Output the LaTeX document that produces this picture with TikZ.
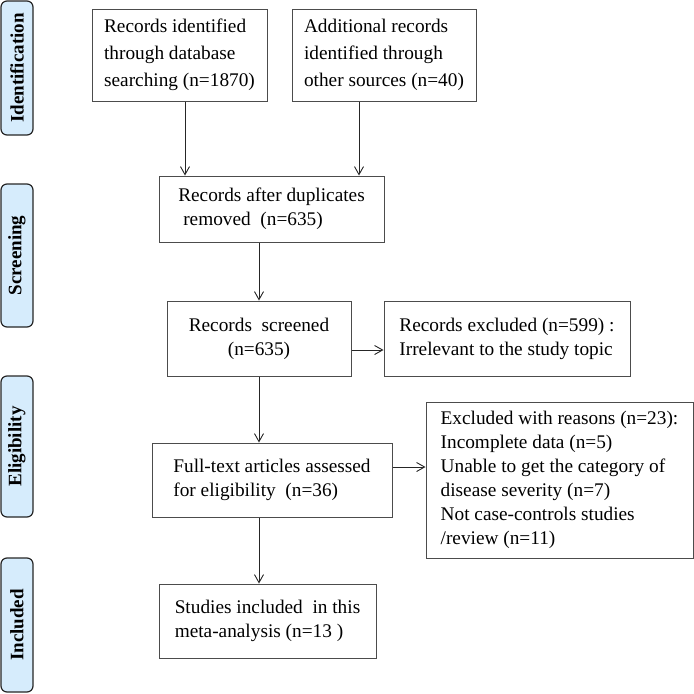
\documentclass[tikz,border=0pt]{standalone}
\usepackage{fontspec}
\setmainfont{Liberation Serif}
\usetikzlibrary{arrows.meta}
\usetikzlibrary{calc}
\definecolor{stageblue}{RGB}{214,236,252}
\tikzset{stage/.style = {draw=black!85, line width=1.2pt, fill=stageblue,
                         rounded corners=6pt, rotate=90, minimum height=32pt,
                         inner sep=0pt, font=\fontsize{19}{24}\selectfont\bfseries},
         box/.style = {draw=black!70, line width=1pt, align=left, inner sep=0pt,
                       font=\fontsize{19.3}{24}\selectfont},
         flow/.style = {draw=black!85, line width=0.9pt,
                        -{Straight Barb[length=8pt,width=9pt]}}}

\begin{document}
\begin{tikzpicture}[x=1pt, y=-1pt]
    \useasboundingbox (0, 0) rectangle (694, 694);

    \node [stage, minimum width=134pt] (ident) at (17, 68) {Identification};
    \node [stage, minimum width=143pt] (screen) at (17, 255.5) {Screening};
    \node [stage, minimum width=141pt] (elig) at (17, 446.5) {Eligibility};
    \node [stage, minimum width=134pt] (incl) at (17, 625) {Included};

    \node [box, minimum width=175pt, minimum height=92pt,
           font=\fontsize{19.3}{27}\selectfont] (db) at (179.5, 55)
          {Records identified\\through database\\searching (n=1870)};
    \node [box, minimum width=184pt, minimum height=92pt,
           font=\fontsize{19.3}{27}\selectfont] (other) at (384, 55)
          {Additional records\\identified through\\other sources (n=40)};
    \node [box, minimum width=225pt, minimum height=66pt] (dup) at (271.5, 209)
          {Records after duplicates\\\hspace*{5pt}removed\ \ (n=635)};
    \node [box, align=center, minimum width=184pt, minimum height=75pt]
          (screened) at (259, 338.5) {Records\ \ screened\\(n=635)};
    \node [box, minimum width=246pt, minimum height=75pt] (excl) at (507, 338.5)
          {Records excluded (n=599) :\\Irrelevant to the study topic};
    \node [box, minimum width=240pt, minimum height=74pt] (full) at (272, 480)
          {Full-text articles assessed\\for eligibility\ \ (n=36)};
    \node [box, minimum width=267pt, minimum height=156pt] (reasons) at (559.5, 480)
          {Excluded with reasons (n=23):\\Incomplete data (n=5)\\
           Unable to get the category of\\disease severity (n=7)\\
           Not case-controls studies\\/review (n=11)};
    \node [box, minimum width=217pt, minimum height=74pt] (studies) at (267.5, 621)
          {Studies included\ \ in this\\meta-analysis (n=13 )};

    \coordinate (dbout) at ($(db.south)+(5.5, 0)$);
    \coordinate (otherout) at ($(other.south)+(-25, 0)$);
    \coordinate (screenout) at ($(screened.east)+(0, 11.5)$);
    \coordinate (fullout) at ($(full.east)+(0, -13)$);

    \draw [flow] (dbout) -- (dbout |- dup.north);
    \draw [flow] (otherout) -- (otherout |- dup.north);
    \draw [flow] (dup.south -| screened.north) -- (screened.north);
    \draw [flow] (screened.south) -- (screened.south |- full.north);
    \draw [flow] (screened.south |- full.south) -- (screened.south |- studies.north);
    \draw [flow] (screenout) -- (screenout -| excl.west);
    \draw [flow] (fullout) -- (fullout -| reasons.west);
\end{tikzpicture}
\end{document}
